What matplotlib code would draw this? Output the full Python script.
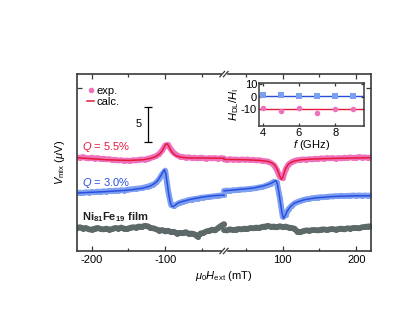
import numpy as np
import matplotlib
matplotlib.use("Agg")
import matplotlib.pyplot as plt
from matplotlib.lines import Line2D

plt.rcParams['font.family'] = ['Liberation Sans', 'DejaVu Sans']
plt.rcParams['mathtext.fontset'] = 'custom'
plt.rcParams['mathtext.rm'] = 'Liberation Sans'
plt.rcParams['mathtext.it'] = 'Liberation Sans:italic'
plt.rcParams['mathtext.bf'] = 'Liberation Sans:bold'
plt.rcParams['axes.unicode_minus'] = False

# ---- data (field in mT, voltage in uV with offsets as in the figure) ----
B_left = np.arange(-220, -19, 4)
B_right = np.arange(20, 221, 4)

pink_left = [13.4, 13.3, 13.45, 13.3, 13.25, 13.35, 13.2, 13.3, 13.15, 13.2,
             13.1, 13.15, 13.0, 13.05, 12.95, 13.0, 12.9, 12.95, 12.85, 13.0,
             12.95, 13.05, 13.1, 13.05, 13.2, 13.3, 13.45, 13.6, 13.9, 14.4,
             15.1, 15.2, 14.5, 14.0, 13.7, 13.5, 13.45, 13.35, 13.4, 13.3,
             13.35, 13.25, 13.35, 13.3, 13.2, 13.3, 13.25, 13.3, 13.2, 13.3, 13.25]
blue_left = [8.3, 8.35, 8.3, 8.4, 8.35, 8.45, 8.4, 8.5, 8.45, 8.55,
             8.5, 8.6, 8.55, 8.65, 8.6, 8.7, 8.65, 8.75, 8.8, 8.85,
             8.9, 8.95, 9.0, 9.1, 9.2, 9.35, 9.5, 9.8, 10.3, 11.0,
             11.5, 8.6, 6.6, 6.4, 6.7, 6.9, 7.05, 7.15, 7.3, 7.35,
             7.45, 7.5, 7.6, 7.65, 7.7, 7.75, 7.8, 7.85, 7.9, 7.95, 8.0]
gray_left = [3.3, 3.4, 3.2, 3.3, 3.1, 3.05, 3.2, 3.3, 3.15, 3.1,
             3.2, 3.05, 3.15, 3.3, 3.2, 3.35, 3.2, 3.15, 3.3, 3.4,
             3.35, 3.5, 3.45, 3.6, 3.55, 3.3, 3.25, 3.1, 2.9, 3.0,
             2.8, 2.9, 2.7, 2.75, 2.5, 2.6, 2.55, 2.7, 2.45, 2.5,
             2.4, 2.05, 2.5, 2.6, 2.8, 2.9, 3.05, 2.95, 3.3, 3.6, 3.85]

pink_right = [13.1, 13.0, 13.15, 13.05, 13.1, 13.0, 13.1, 13.05, 13.1, 13.0,
              13.05, 12.95, 13.0, 12.9, 12.85, 12.8, 12.6, 12.3, 11.6, 10.6,
              10.4, 11.7, 12.4, 12.7, 12.9, 13.0, 13.05, 13.1, 13.05, 13.15,
              13.1, 13.2, 13.15, 13.25, 13.2, 13.3, 13.25, 13.3, 13.2, 13.3,
              13.25, 13.35, 13.3, 13.4, 13.3, 13.35, 13.45, 13.35, 13.4, 13.3, 13.4]
blue_right = [8.6, 8.65, 8.6, 8.7, 8.7, 8.75, 8.8, 8.8, 8.85, 8.9,
              8.95, 9.0, 9.1, 9.15, 9.3, 9.45, 9.65, 9.9, 9.8, 7.6,
              4.9, 5.1, 6.0, 6.45, 6.8, 7.0, 7.15, 7.3, 7.4, 7.45,
              7.55, 7.6, 7.65, 7.7, 7.7, 7.75, 7.8, 7.8, 7.85, 7.85,
              7.9, 7.85, 7.9, 7.9, 7.95, 7.9, 7.95, 7.9, 7.95, 7.9, 7.95]
gray_right = [3.0, 2.95, 3.1, 3.0, 3.05, 3.15, 3.1, 3.2, 3.15, 3.3,
              3.25, 3.35, 3.3, 3.45, 3.5, 3.6, 3.45, 3.5, 3.4, 3.55,
              3.4, 3.5, 3.35, 3.3, 3.2, 2.75, 2.7, 2.85, 2.95, 2.9,
              3.0, 3.0, 2.95, 3.05, 3.1, 3.0, 3.1, 3.15, 3.05, 3.15,
              3.2, 3.1, 3.25, 3.2, 3.3, 3.3, 3.25, 3.4, 3.45, 3.5, 3.55]

# calculated curves
Bc_pink_left = [-220, -180, -150, -130, -120, -114, -110, -107, -104, -102, -100, -98,
                -96, -94, -92, -90, -87, -84, -80, -75, -65, -50, -35, -20]
calc_pink_left = [13.35, 13.05, 12.95, 13.05, 13.25, 13.45, 13.7, 13.95, 14.35, 14.75, 15.15, 15.35,
                  15.15, 14.75, 14.35, 14.05, 13.75, 13.58, 13.45, 13.36, 13.3, 13.3, 13.28, 13.27]
Bc_pink_right = [20, 50, 70, 80, 85, 88, 91, 94, 96, 98, 100, 102, 104, 107, 110, 115,
                 125, 140, 170, 220]
calc_pink_right = [13.1, 13.05, 12.95, 12.8, 12.6, 12.4, 12.0, 11.3, 10.7, 10.25, 10.5, 11.2,
                   11.8, 12.3, 12.6, 12.85, 13.05, 13.15, 13.25, 13.35]
Bc_blue_left = [-220, -180, -150, -130, -120, -114, -110, -107, -104, -102, -101, -99, -97,
                -95, -93, -91, -89, -86, -82, -76, -65, -50, -35, -20]
calc_blue_left = [8.3, 8.5, 8.7, 9.0, 9.3, 9.7, 10.1, 10.6, 11.1, 11.5, 11.6, 11.0, 9.5,
                  8.0, 6.9, 6.4, 6.35, 6.6, 6.9, 7.1, 7.4, 7.7, 7.9, 8.0]
Bc_blue_right = [20, 40, 60, 75, 82, 86, 89, 91, 93, 95, 97, 99, 101, 103, 106, 110, 115,
                 122, 130, 145, 170, 200, 220]
calc_blue_right = [8.6, 8.8, 9.0, 9.35, 9.6, 9.8, 10.0, 10.05, 9.5, 8.2, 6.8, 5.4, 4.7, 5.0,
                   5.7, 6.3, 6.8, 7.1, 7.35, 7.6, 7.8, 7.9, 7.9]

# inset
freq = [4, 5, 6, 7, 8, 9]
ratio_q30 = [1.2, 1.2, 0.6, 0.6, 0.8, 0.8]
ratio_q55 = [-8.8, -11.2, -8.8, -13.3, -9.6, -9.8]
fit_q30 = 0.8
fit_q55 = -10.0

c_pink = '#ee72bb'
c_red = '#e8173c'
c_lblue = '#7d9ff0'
c_blue = '#2a4fe0'
c_gray = '#5d6969'
c_axis = '#3a3a3a'


def tx(b):
    # squeeze out the gap -20..20 mT of the broken axis
    b = np.asarray(b, dtype=float)
    return np.where(b < 0, b + 20, b - 20)


fig = plt.figure(figsize=(3.95, 3.14), dpi=100)
ax = fig.add_axes([0.195, 0.2006, 0.744, 0.5634])

exp_kw = dict(lw=4.2, marker='o', ms=3.6, mew=0, solid_capstyle='round',
              solid_joinstyle='round')
for Bs, ys, c in [(B_left, pink_left, c_pink), (B_right, pink_right, c_pink),
                  (B_left, blue_left, c_lblue), (B_right, blue_right, c_lblue),
                  (B_left, gray_left, c_gray), (B_right, gray_right, c_gray)]:
    ax.plot(tx(Bs), ys, color=c, **exp_kw)

for Bs, ys, c in [(Bc_pink_left, calc_pink_left, c_red), (Bc_pink_right, calc_pink_right, c_red),
                  (Bc_blue_left, calc_blue_left, c_blue), (Bc_blue_right, calc_blue_right, c_blue)]:
    ax.plot(tx(Bs), ys, color=c, lw=1.1)

ax.set_xlim(-200, 200)
ax.set_ylim(0, 25.3)
ax.set_xticks(tx([-200, -100, 100, 200]))
ax.set_xticklabels(['-200', '-100', '100', '200'])
ax.set_xticks(tx([-150, -50, 50, 150]), minor=True)
ax.set_yticks([23.3])
ax.set_yticklabels([])
ax.tick_params(which='both', direction='in', top=True, right=True, labelsize=8,
               color=c_axis, width=0.9, pad=3)
ax.tick_params(which='major', length=3.5)
ax.tick_params(which='minor', length=2.2)
for s in ax.spines.values():
    s.set_color(c_axis)
    s.set_linewidth(1.2)

ax.set_xlabel(r'$\mu_0H_{\rm ext}$ (mT)', fontsize=8, labelpad=3)
ax.set_ylabel(r'$V_{\rm mix}$ ($\mu$V)', fontsize=8, labelpad=4)

# axis break marks
for yb in (0, 1):
    ax.add_patch(plt.Rectangle((0.4935, yb - 0.012), 0.013, 0.024, transform=ax.transAxes,
                               color='white', clip_on=False, zorder=5))
    for dx in (-0.006, 0.006):
        ax.plot([0.5 + dx - 0.008, 0.5 + dx + 0.008], [yb - 0.015, yb + 0.015],
                transform=ax.transAxes, color=c_axis, lw=0.9, clip_on=False, zorder=6)

# scale bar 5 uV
xs = tx(-124)
ax.errorbar([xs], [18.1], yerr=[[2.5], [2.5]], color='black', lw=0.9, capsize=3, capthick=0.9)
ax.text(tx(-136), 18.1, '5', fontsize=8, ha='center', va='center')

ax.text(-193, 14.9, r'$Q$ = 5.5%', color=c_red, fontsize=8, va='center')
ax.text(-193, 9.7, r'$Q$ = 3.0%', color=c_blue, fontsize=8, va='center')
ax.text(-193, 4.9, r'Ni$_{\mathbf{81}}$Fe$_{\mathbf{19}}$ film', color='#222222',
        fontsize=8, va='center', fontweight='bold')

handles = [Line2D([], [], color=c_pink, marker='o', ls='none', ms=4, mew=0),
           Line2D([], [], color=c_red, lw=1.1)]
ax.legend(handles, ['exp.', 'calc.'], loc='upper left', bbox_to_anchor=(0.01, 0.97),
          frameon=False, fontsize=8, handlelength=0.7, handletextpad=0.2,
          labelspacing=0.1, borderaxespad=0.2)

# inset
ins = fig.add_axes([0.656, 0.599, 0.266, 0.137])
ins.axhline(fit_q30, color=c_blue, lw=1.0)
ins.axhline(fit_q55, color=c_red, lw=1.0)
ins.plot(freq, ratio_q30, 's', color=c_lblue, ms=4, mew=0)
ins.plot(freq, ratio_q55, 'o', color=c_pink, ms=4, mew=0)
ins.set_xlim(3.8, 9.6)
ins.set_ylim(-23.5, 11)
ins.set_xticks([4, 6, 8])
ins.set_yticks([-10, 0, 10])
ins.tick_params(direction='in', top=True, right=True, labelsize=8, length=2.5,
                width=0.9, color=c_axis, pad=1.5)
for s in ins.spines.values():
    s.set_color(c_axis)
    s.set_linewidth(1.1)
ins.set_xlabel(r'$f$ (GHz)', fontsize=8, labelpad=0)
ins.set_ylabel(r'$H_{\rm DL}/H_{\rm I}$', fontsize=8, labelpad=0)

fig.savefig('out.png', dpi=100)
